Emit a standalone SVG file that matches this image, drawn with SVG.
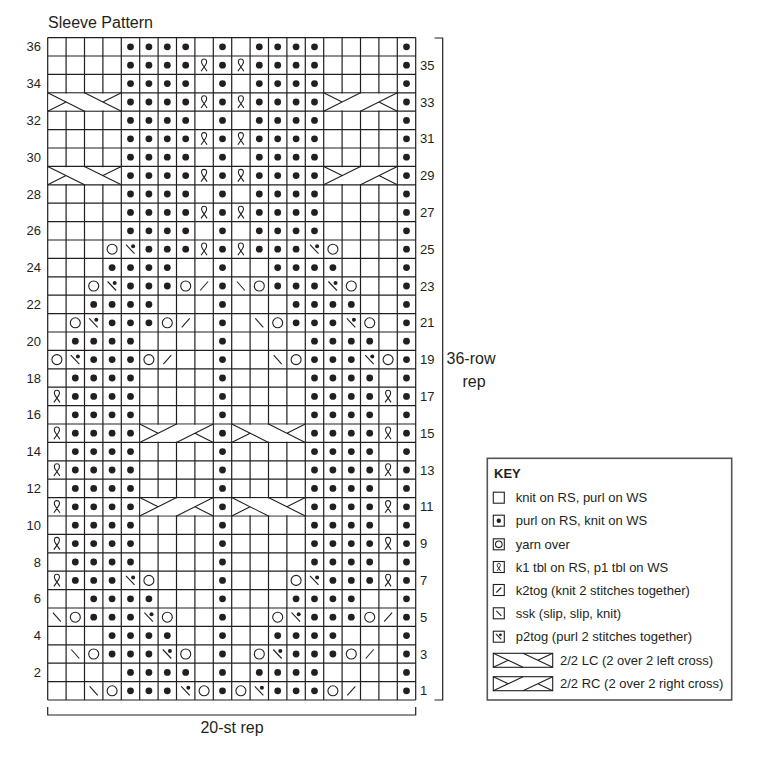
<svg xmlns="http://www.w3.org/2000/svg" width="758" height="773" viewBox="0 0 758 773">
<style>
text{font-family:"Liberation Sans",Arial,sans-serif;fill:#231f20}
.t16{font-size:16px}
.t13{font-size:13px}
.ln{fill:none;stroke:#231f20;stroke-width:1.1}
.grid{fill:none;stroke:#231f20;stroke-width:1.2}
.dt{fill:#231f20}
</style>
<defs>
<circle id="d" r="3.4" class="dt"/>
<circle id="o" r="5" class="ln"/>
<path id="k" d="M-4,4.5 L4,-4.5" class="ln"/>
<path id="s" d="M-4,-4.5 L4,4.5" class="ln"/>
<g id="p"><path d="M-4.5,-4.5 L4,4.5" class="ln"/><circle cx="2.6" cy="-3" r="2" class="dt"/></g>
<path id="t" d="M-3,6 L1.5,-0.5 C3.3,-3.2 2.8,-6.2 0,-6.2 C-2.8,-6.2 -3.3,-3.2 -1.5,-0.5 L3,6" class="ln"/>
<g id="cLC"><rect x="0.8" y="0.8" width="72" height="16.8" fill="#fff"/><path d="M0,0 L36.8,18.4 M36.8,0 L73.6,18.4 M0,18.4 L18.4,9.2 M55.2,9.2 L73.6,0" class="ln"/></g>
<g id="cRC"><rect x="0.8" y="0.8" width="72" height="16.8" fill="#fff"/><path d="M0,18.4 L36.8,0 M36.8,18.4 L73.6,0 M0,0 L18.4,9.2 M73.6,18.4 L55.2,9.2" class="ln"/></g>
<g id="rA"><use href="#d" x="130.5"/><use href="#d" x="148.9"/><use href="#d" x="167.3"/><use href="#d" x="185.7"/><use href="#d" x="222.5"/><use href="#d" x="259.3"/><use href="#d" x="277.7"/><use href="#d" x="296.1"/><use href="#d" x="314.5"/><use href="#d" x="406.5"/></g>
<g id="rB"><use href="#rA"/><use href="#t" x="204.1"/><use href="#t" x="240.9"/></g>
<g id="rD"><use href="#d" x="75.3"/><use href="#d" x="93.7"/><use href="#d" x="112.1"/><use href="#d" x="130.5"/><use href="#d" x="222.5"/><use href="#d" x="314.5"/><use href="#d" x="332.9"/><use href="#d" x="351.3"/><use href="#d" x="369.7"/><use href="#d" x="406.5"/></g>
<g id="rE"><use href="#rD"/><use href="#t" x="56.9"/><use href="#t" x="388.1"/></g>
<g id="rG"><use href="#d" x="112.1"/><use href="#d" x="130.5"/><use href="#d" x="148.9"/><use href="#d" x="167.3"/><use href="#d" x="222.5"/><use href="#d" x="277.7"/><use href="#d" x="296.1"/><use href="#d" x="314.5"/><use href="#d" x="332.9"/><use href="#d" x="406.5"/></g>
<g id="rH"><use href="#d" x="93.7"/><use href="#d" x="112.1"/><use href="#d" x="130.5"/><use href="#d" x="148.9"/><use href="#d" x="222.5"/><use href="#d" x="296.1"/><use href="#d" x="314.5"/><use href="#d" x="332.9"/><use href="#d" x="351.3"/><use href="#d" x="406.5"/></g>
</defs>
<rect width="758" height="773" fill="#fff"/>
<text id="title" class="t16" x="48" y="28">Sleeve Pattern</text>
<g id="grid">
<path class="grid" d="M47.7,37.6H415.7M47.7,56H415.7M47.7,74.4H415.7M47.7,92.8H415.7M47.7,111.2H415.7M47.7,129.6H415.7M47.7,148H415.7M47.7,166.4H415.7M47.7,184.8H415.7M47.7,203.2H415.7M47.7,221.6H415.7M47.7,240H415.7M47.7,258.4H415.7M47.7,276.8H415.7M47.7,295.2H415.7M47.7,313.6H415.7M47.7,332H415.7M47.7,350.4H415.7M47.7,368.8H415.7M47.7,387.2H415.7M47.7,405.6H415.7M47.7,424H415.7M47.7,442.4H415.7M47.7,460.8H415.7M47.7,479.2H415.7M47.7,497.6H415.7M47.7,516H415.7M47.7,534.4H415.7M47.7,552.8H415.7M47.7,571.2H415.7M47.7,589.6H415.7M47.7,608H415.7M47.7,626.4H415.7M47.7,644.8H415.7M47.7,663.2H415.7M47.7,681.6H415.7M47.7,700H415.7M47.7,37.6V700M66.1,37.6V700M84.5,37.6V700M102.9,37.6V700M121.3,37.6V700M139.7,37.6V700M158.1,37.6V700M176.5,37.6V700M194.9,37.6V700M213.3,37.6V700M231.7,37.6V700M250.1,37.6V700M268.5,37.6V700M286.9,37.6V700M305.3,37.6V700M323.7,37.6V700M342.1,37.6V700M360.5,37.6V700M378.9,37.6V700M397.3,37.6V700M415.7,37.6V700"/>
</g>
<g id="cables">
<use href="#cLC" x="47.7" y="92.8"/><use href="#cRC" x="323.7" y="92.8"/>
<use href="#cLC" x="47.7" y="166.4"/><use href="#cRC" x="323.7" y="166.4"/>
<use href="#cRC" x="139.7" y="424"/><use href="#cLC" x="231.7" y="424"/>
<use href="#cRC" x="139.7" y="497.6"/><use href="#cLC" x="231.7" y="497.6"/>
</g>
<g id="stitches">
<use href="#rA" y="46.8"/>
<use href="#rB" y="65.2"/>
<use href="#rA" y="83.6"/>
<use href="#rB" y="102"/>
<use href="#rA" y="120.4"/>
<use href="#rB" y="138.8"/>
<use href="#rA" y="157.2"/>
<use href="#rB" y="175.6"/>
<use href="#rA" y="194"/>
<use href="#rB" y="212.4"/>
<use href="#rA" y="230.8"/>
<g transform="translate(0,249.2)"><use href="#o" x="112.1"/><use href="#p" x="130.5"/><use href="#d" x="148.9"/><use href="#d" x="167.3"/><use href="#d" x="185.7"/><use href="#t" x="204.1"/><use href="#d" x="222.5"/><use href="#t" x="240.9"/><use href="#d" x="259.3"/><use href="#d" x="277.7"/><use href="#d" x="296.1"/><use href="#p" x="314.5"/><use href="#o" x="332.9"/><use href="#d" x="406.5"/></g>
<use href="#rG" y="267.6"/>
<g transform="translate(0,286)"><use href="#o" x="93.7"/><use href="#p" x="112.1"/><use href="#d" x="130.5"/><use href="#d" x="148.9"/><use href="#d" x="167.3"/><use href="#o" x="185.7"/><use href="#k" x="204.1"/><use href="#d" x="222.5"/><use href="#s" x="240.9"/><use href="#o" x="259.3"/><use href="#d" x="277.7"/><use href="#d" x="296.1"/><use href="#d" x="314.5"/><use href="#p" x="332.9"/><use href="#o" x="351.3"/><use href="#d" x="406.5"/></g>
<use href="#rH" y="304.4"/>
<g transform="translate(0,322.8)"><use href="#o" x="75.3"/><use href="#p" x="93.7"/><use href="#d" x="112.1"/><use href="#d" x="130.5"/><use href="#d" x="148.9"/><use href="#o" x="167.3"/><use href="#k" x="185.7"/><use href="#d" x="222.5"/><use href="#s" x="259.3"/><use href="#o" x="277.7"/><use href="#d" x="296.1"/><use href="#d" x="314.5"/><use href="#d" x="332.9"/><use href="#p" x="351.3"/><use href="#o" x="369.7"/><use href="#d" x="406.5"/></g>
<use href="#rD" y="341.2"/>
<g transform="translate(0,359.6)"><use href="#o" x="56.9"/><use href="#p" x="75.3"/><use href="#d" x="93.7"/><use href="#d" x="112.1"/><use href="#d" x="130.5"/><use href="#o" x="148.9"/><use href="#k" x="167.3"/><use href="#d" x="222.5"/><use href="#s" x="277.7"/><use href="#o" x="296.1"/><use href="#d" x="314.5"/><use href="#d" x="332.9"/><use href="#d" x="351.3"/><use href="#p" x="369.7"/><use href="#o" x="388.1"/><use href="#d" x="406.5"/></g>
<use href="#rD" y="378"/>
<use href="#rE" y="396.4"/>
<use href="#rD" y="414.8"/>
<use href="#rE" y="433.2"/>
<use href="#rD" y="451.6"/>
<use href="#rE" y="470"/>
<use href="#rD" y="488.4"/>
<use href="#rE" y="506.8"/>
<use href="#rD" y="525.2"/>
<use href="#rE" y="543.6"/>
<use href="#rD" y="562"/>
<g transform="translate(0,580.4)"><use href="#t" x="56.9"/><use href="#d" x="75.3"/><use href="#d" x="93.7"/><use href="#d" x="112.1"/><use href="#p" x="130.5"/><use href="#o" x="148.9"/><use href="#d" x="222.5"/><use href="#o" x="296.1"/><use href="#p" x="314.5"/><use href="#d" x="332.9"/><use href="#d" x="351.3"/><use href="#d" x="369.7"/><use href="#t" x="388.1"/><use href="#d" x="406.5"/></g>
<use href="#rH" y="598.8"/>
<g transform="translate(0,617.2)"><use href="#s" x="56.9"/><use href="#o" x="75.3"/><use href="#d" x="93.7"/><use href="#d" x="112.1"/><use href="#d" x="130.5"/><use href="#p" x="148.9"/><use href="#o" x="167.3"/><use href="#d" x="222.5"/><use href="#o" x="277.7"/><use href="#p" x="296.1"/><use href="#d" x="314.5"/><use href="#d" x="332.9"/><use href="#d" x="351.3"/><use href="#o" x="369.7"/><use href="#k" x="388.1"/><use href="#d" x="406.5"/></g>
<use href="#rG" y="635.6"/>
<g transform="translate(0,654)"><use href="#s" x="75.3"/><use href="#o" x="93.7"/><use href="#d" x="112.1"/><use href="#d" x="130.5"/><use href="#d" x="148.9"/><use href="#p" x="167.3"/><use href="#o" x="185.7"/><use href="#d" x="222.5"/><use href="#o" x="259.3"/><use href="#p" x="277.7"/><use href="#d" x="296.1"/><use href="#d" x="314.5"/><use href="#d" x="332.9"/><use href="#o" x="351.3"/><use href="#k" x="369.7"/><use href="#d" x="406.5"/></g>
<use href="#rA" y="672.4"/>
<g transform="translate(0,690.8)"><use href="#s" x="93.7"/><use href="#o" x="112.1"/><use href="#d" x="130.5"/><use href="#d" x="148.9"/><use href="#d" x="167.3"/><use href="#p" x="185.7"/><use href="#o" x="204.1"/><use href="#d" x="222.5"/><use href="#o" x="240.9"/><use href="#p" x="259.3"/><use href="#d" x="277.7"/><use href="#d" x="296.1"/><use href="#d" x="314.5"/><use href="#o" x="332.9"/><use href="#k" x="351.3"/><use href="#d" x="406.5"/></g>
</g>
<g id="row-labels-left" class="t13" text-anchor="end">
<text x="41" y="51.3">36</text><text x="41" y="88.1">34</text><text x="41" y="124.9">32</text><text x="41" y="161.7">30</text><text x="41" y="198.5">28</text><text x="41" y="235.3">26</text><text x="41" y="272.1">24</text><text x="41" y="308.9">22</text><text x="41" y="345.7">20</text><text x="41" y="382.5">18</text><text x="41" y="419.3">16</text><text x="41" y="456.1">14</text><text x="41" y="492.9">12</text><text x="41" y="529.7">10</text><text x="41" y="566.5">8</text><text x="41" y="603.3">6</text><text x="41" y="640.1">4</text><text x="41" y="676.9">2</text>
</g>
<g id="row-labels-right" class="t13">
<text x="420" y="69.7">35</text><text x="420" y="106.5">33</text><text x="420" y="143.3">31</text><text x="420" y="180.1">29</text><text x="420" y="216.9">27</text><text x="420" y="253.7">25</text><text x="420" y="290.5">23</text><text x="420" y="327.3">21</text><text x="420" y="364.1">19</text><text x="420" y="400.9">17</text><text x="420" y="437.7">15</text><text x="420" y="474.5">13</text><text x="420" y="511.3">11</text><text x="420" y="548.1">9</text><text x="420" y="584.9">7</text><text x="420" y="621.7">5</text><text x="420" y="658.5">3</text><text x="420" y="695.3">1</text>
</g>
<g id="brackets">
<path class="grid" d="M47.7,707V715H415.7V707"/>
<text class="t16" x="232" y="733" text-anchor="middle">20-st rep</text>
<path class="grid" d="M434.5,38H442.7V700H434.5"/>
<text class="t16" x="471" y="364" text-anchor="middle">36-row</text>
<text class="t16" x="474" y="387" text-anchor="middle">rep</text>
</g>
<g id="key">
<rect x="487.3" y="458.3" width="244.4" height="241.7" fill="#fff" stroke="#555" stroke-width="1.6"/>
<text class="t13" x="494" y="478" font-weight="bold">KEY</text>
<g class="grid" style="stroke-width:1.1">
<rect x="493.3" y="492.2" width="11" height="11"/>
<rect x="493.3" y="515.2" width="11" height="11"/>
<rect x="493.3" y="538.8" width="11" height="11"/>
<rect x="493.3" y="561.5" width="11" height="11"/>
<rect x="493.3" y="584.5" width="11" height="11"/>
<rect x="493.3" y="607.8" width="11" height="11"/>
<rect x="493.3" y="631.2" width="11" height="11"/>
</g>
<circle cx="498.8" cy="520.7" r="2.2" class="dt"/>
<circle cx="498.8" cy="544.3" r="3.3" class="ln"/>
<path d="M497,571 L499.7,567 C500.8,565.3 500.5,563.3 498.8,563.3 C497.1,563.3 496.8,565.3 497.9,567 L500.6,571" class="ln" style="stroke-width:0.9"/>
<path d="M496.3,592.5 L501.3,587.5" class="ln"/>
<path d="M496.3,610.8 L501.3,615.8" class="ln"/>
<path d="M495.9,633.8 L501.3,639.3" class="ln"/><circle cx="500.4" cy="634.8" r="1.4" class="dt"/>
<text class="t13" x="515.7" y="502.2">knit on RS, purl on WS</text>
<text class="t13" x="515.7" y="525.2">purl on RS, knit on WS</text>
<text class="t13" x="515.7" y="548.8">yarn over</text>
<text class="t13" x="515.7" y="571.5">k1 tbl on RS, p1 tbl on WS</text>
<text class="t13" x="515.7" y="594.5">k2tog (knit 2 stitches together)</text>
<text class="t13" x="515.7" y="617.8">ssk (slip, slip, knit)</text>
<text class="t13" x="515.7" y="641.2">p2tog (purl 2 stitches together)</text>
<rect x="493.3" y="653.3" width="59.4" height="14" class="grid" style="stroke-width:1.1"/>
<path d="M493.3,653.3 L523,667.3 M523,653.3 L552.7,667.3 M493.3,667.3 L508.15,660.3 M537.85,660.3 L552.7,653.3" class="ln"/>
<rect x="493.3" y="676.7" width="59.4" height="14" class="grid" style="stroke-width:1.1"/>
<path d="M493.3,690.7 L523,676.7 M523,690.7 L552.7,676.7 M493.3,676.7 L508.15,683.7 M552.7,690.7 L537.85,683.7" class="ln"/>
<text class="t13" x="560" y="664.8">2/2 LC (2 over 2 left cross)</text>
<text class="t13" x="560" y="688.2">2/2 RC (2 over 2 right cross)</text>
</g>
</svg>
